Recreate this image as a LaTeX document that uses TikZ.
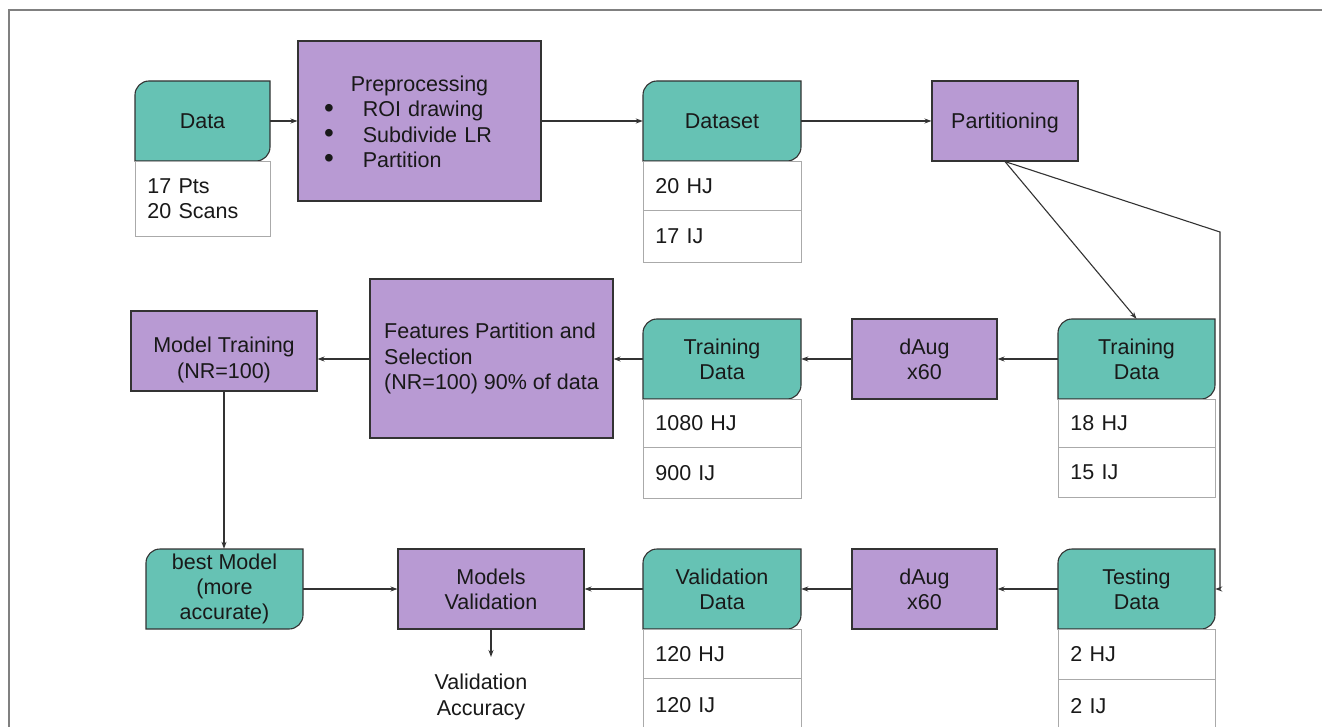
\documentclass[tikz,border=0pt]{standalone}
\usepackage{fontspec}
\setmainfont{Liberation Sans}
\usetikzlibrary{arrows.meta}
\definecolor{tealc}{HTML}{66C2B4}
\definecolor{purc}{HTML}{B89AD3}
\definecolor{bord}{HTML}{333333}
\definecolor{cellb}{HTML}{AAAAAA}
\definecolor{framec}{HTML}{808080}
\tikzset{
  every node/.style={font=\fontsize{21.5}{25.3}\selectfont, text=black!90},
  border/.style={draw=bord, line width=1.1pt},
  purbox/.style={border, fill=purc, rectangle, inner sep=0pt, align=center},
  textnode/.style={rectangle, inner sep=0pt, align=center},
  cell/.style={draw=cellb, line width=0.9pt, fill=white, rectangle, anchor=north west, inner xsep=12pt, inner ysep=0pt, align=left},
  arr/.style={draw=bord, line width=1.1pt, -{Stealth[length=7pt,width=5pt]}}
}
\newcommand\tealbox[6]{%
  \filldraw[fill=tealc, border] (#2,#5) -- (#2,#3+14) arc[start angle=180,end angle=270,radius=14] -- (#4,#3) -- (#4,#5-14) arc[start angle=0,end angle=90,radius=14] -- cycle;
  \node[textnode, minimum width={#4-#2}, minimum height={#5-#3}] (#1) at ({(#2+#4)/2},{(#3+#5)/2}) {#6};}
\newcommand\cellbox[6]{% name, L, T, R, B, text
  \node[cell, minimum height={#5-#3}, text width={#4-#2-24}] (#1) at (#2,#3) {#6};}
\begin{document}
\begin{tikzpicture}[x=1pt,y=-1pt]
\useasboundingbox (0,0) rectangle (1322,727);
\clip (0,0) rectangle (1322,727);
\fill[white] (0,0) rectangle (1322,727);
\draw[framec, line width=1.4pt] (9,730) -- (9,10) -- (1325,10);

% ---- row 1
\tealbox{data}{135}{81}{270}{161}{Data}
\cellbox{dataC}{135}{161}{270}{236}{17 Pts\\20 Scans}
\node[purbox, minimum width=243, minimum height=160] (pre) at (419.5,121) {};
\node[textnode, text width=243, align=left] (pretxt) at (419.5,122) {\makebox[243pt][c]{Preprocessing}\\
\hspace*{26pt}\raisebox{-0.5pt}{\scalebox{1.3}{\textbullet}}\hspace{29pt}ROI drawing\\
\hspace*{26pt}\raisebox{-0.5pt}{\scalebox{1.3}{\textbullet}}\hspace{29pt}Subdivide LR\\
\hspace*{26pt}\raisebox{-0.5pt}{\scalebox{1.3}{\textbullet}}\hspace{29pt}Partition};
\tealbox{ds}{643}{81}{801}{161}{Dataset}
\cellbox{dsA}{643}{161}{801}{210}{20 HJ}
\cellbox{dsB}{643}{210}{801}{262}{17 IJ}
\node[purbox, minimum width=146, minimum height=80] (part) at (1005,121) {};
\node[textnode] (parttxt) at (1005,123) {Partitioning};

% ---- row 2
\node[purbox, minimum width=186, minimum height=80] (mt) at (224,351) {};
\node[textnode] (mttxt) at (224,360) {Model Training\\(NR=100)};
\node[purbox, minimum width=243, minimum height=159, align=left] (feat) at (491.5,358.5) {Features Partition and\\Selection\\(NR=100) 90\% of data};
\tealbox{trM}{643}{319}{801}{399}{Training\\Data}
\cellbox{trMA}{643}{399}{801}{447}{1080 HJ}
\cellbox{trMB}{643}{447}{801}{498}{900 IJ}
\node[purbox, minimum width=145, minimum height=80] (dA1) at (924.5,359) {dAug\\x60};
\tealbox{trR}{1058}{319}{1215}{399}{Training\\Data}
\cellbox{trRA}{1058}{399}{1215}{447}{18 HJ}
\cellbox{trRB}{1058}{447}{1215}{497}{15 IJ}

% ---- row 3
\tealbox{bm}{146}{549}{303}{629}{best Model\\(more\\accurate)}
\node[purbox, minimum width=186, minimum height=80] (mv) at (491,589) {Models\\Validation};
\tealbox{vd}{643}{549}{801}{629}{Validation\\Data}
\cellbox{vdA}{643}{629}{801}{678}{120 HJ}
\cellbox{vdB}{643}{678}{801}{732}{120 IJ}
\node[purbox, minimum width=145, minimum height=80] (dA2) at (924.5,589) {dAug\\x60};
\tealbox{test}{1058}{549}{1215}{629}{Testing\\Data}
\cellbox{testA}{1058}{629}{1215}{679}{2 HJ}
\cellbox{testB}{1058}{679}{1215}{732}{2 IJ}
\node[textnode] (acc) at (481,697) {Validation\\Accuracy};
\coordinate (accin) at (491,657);

% ---- connectors
\draw[arr] (data.east) -- (pre.west |- data.east);
\draw[arr] (pre.east) -- (ds.west);
\draw[arr] (ds.east) -- (part.west);
\draw[arr] (part.south) -- (trR.north);
\coordinate (bend) at (1220,232);
\draw[arr] (part.south) -- (bend) -- (bend |- test.east) -- (test.east);
\draw[arr] (trR.west) -- (dA1.east);
\draw[arr] (dA1.west) -- (trM.east);
\draw[arr] (trM.west) -- (feat.east |- trM.west);
\draw[arr] (feat.west |- trM.west) -- (mt.east |- trM.west);
\draw[arr] (mt.south) -- (bm.north -| mt.south);
\draw[arr] (bm.east) -- (mv.west);
\draw[arr] (vd.west) -- (mv.east);
\draw[arr] (dA2.west) -- (vd.east);
\draw[arr] (test.west) -- (dA2.east);
\draw[arr] (mv.south) -- (accin);
\end{tikzpicture}
\end{document}
